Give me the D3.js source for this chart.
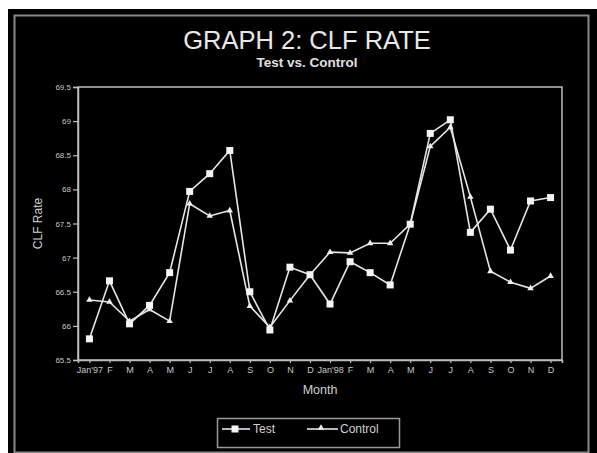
<!DOCTYPE html>
<html><head><meta charset="utf-8">
<script src="https://cdn.jsdelivr.net/npm/d3@7"></script>
<style>
html,body{margin:0;padding:0;background:#fff;}
svg{display:block;font-family:"Liberation Sans",Arial,sans-serif;}
</style></head>
<body>
<svg id="chart" width="597" height="453"></svg>
<script>
const monthLabels = ["Jan'97","F","M","A","M","J","J","A","S","O","N","D","Jan'98","F","M","A","M","J","J","A","S","O","N","D"];
const testValues = [65.81,66.66,66.03,66.30,66.78,67.97,68.23,68.57,66.50,65.94,66.86,66.75,66.32,66.94,66.78,66.60,67.49,68.82,69.02,67.37,67.71,67.11,67.83,67.88];
const controlValues = [66.38,66.35,66.07,66.24,66.07,67.79,67.61,67.69,66.29,65.98,66.37,66.75,67.08,67.07,67.21,67.21,67.49,68.63,68.91,67.89,66.80,66.64,66.55,66.73];
const yTicks = [65.5,66,66.5,67,67.5,68,68.5,69,69.5];
const seriesNames = ["Test","Control"];

const svg = d3.select("#chart");
// background
svg.append("rect").attr("x",8).attr("y",9).attr("width",589).attr("height",444).attr("fill","#000");
svg.append("rect").attr("x",14.5).attr("y",15.5).attr("width",574).attr("height",437)
  .attr("fill","none").attr("stroke","#8a8a8a").attr("stroke-width",2);

const L=78, R=562, T=87, B=360;
const x = d3.scalePoint().domain(d3.range(monthLabels.length)).range([L,R]).padding(0.57);
const y = d3.scaleLinear().domain([65.5,69.5]).range([B,T]);

// frame
svg.append("rect").attr("x",L).attr("y",T).attr("width",R-L).attr("height",B-T)
  .attr("fill","none").attr("stroke","#bdbdbd").attr("stroke-width",1.5);

const yAxis = svg.append("g").attr("transform",`translate(${L},0)`)
  .call(d3.axisLeft(y).tickValues(yTicks).tickFormat(d3.format("~g")).tickSize(5).tickPadding(2));
const xAxis = svg.append("g").attr("transform",`translate(0,${B})`)
  .call(d3.axisBottom(x).tickFormat(i=>monthLabels[i]).tickSize(3).tickPadding(4));
[yAxis,xAxis].forEach(g=>{
  g.select(".domain").attr("stroke","#bdbdbd").attr("stroke-width",1.5);
  g.selectAll(".tick line").attr("stroke","#bdbdbd").attr("stroke-width",1.2);
  g.selectAll(".tick text").attr("fill","#c8c8c8").attr("font-family","Liberation Sans, Arial, sans-serif");
});
yAxis.selectAll(".tick text").attr("font-size",8);
xAxis.selectAll(".tick text").attr("font-size",9);

// titles
svg.append("text").attr("x",307).attr("y",49).attr("text-anchor","middle")
  .attr("fill","#e8e8e8").attr("font-size",25.5).text("GRAPH 2: CLF RATE");
svg.append("text").attr("x",307).attr("y",67).attr("text-anchor","middle")
  .attr("fill","#e0e0e0").attr("font-size",13.5).attr("font-weight","bold").text("Test vs. Control");
svg.append("text").attr("transform",`translate(42,${(T+B)/2}) rotate(-90)`).attr("text-anchor","middle")
  .attr("fill","#d0d0d0").attr("font-size",12).text("CLF Rate");
svg.append("text").attr("x",(L+R)/2).attr("y",394).attr("text-anchor","middle")
  .attr("fill","#d0d0d0").attr("font-size",12.5).text("Month");

const line = d3.line().x((d,i)=>x(i)).y(d=>y(d));
const stroke = "#e6e6e6";
svg.append("path").datum(controlValues).attr("d",line).attr("fill","none").attr("stroke",stroke).attr("stroke-width",1.6);
svg.append("path").datum(testValues).attr("d",line).attr("fill","none").attr("stroke",stroke).attr("stroke-width",1.6);

const tri = d3.symbol().type(d3.symbolTriangle).size(18);
svg.append("g").selectAll("path").data(controlValues).join("path")
  .attr("transform",(d,i)=>`translate(${x(i)},${y(d)})`).attr("d",tri).attr("fill","#f0f0f0");
svg.append("g").selectAll("rect").data(testValues).join("rect")
  .attr("x",(d,i)=>x(i)-3.5).attr("y",d=>y(d)-3.5).attr("width",7).attr("height",7).attr("fill","#f4f4f4");

// legend
const lg = svg.append("g");
lg.append("rect").attr("x",217.5).attr("y",418.5).attr("width",182).attr("height",29)
  .attr("fill","none").attr("stroke","#9a9a9a").attr("stroke-width",1.5);
lg.append("line").attr("x1",222).attr("x2",250).attr("y1",429).attr("y2",429).attr("stroke",stroke).attr("stroke-width",1.6);
lg.append("rect").attr("x",231.5).attr("y",425.5).attr("width",7).attr("height",7).attr("fill","#f4f4f4");
lg.append("text").attr("x",253).attr("y",433).attr("fill","#d0d0d0").attr("font-size",12).text(seriesNames[0]);
lg.append("line").attr("x1",307).attr("x2",338).attr("y1",429).attr("y2",429).attr("stroke",stroke).attr("stroke-width",1.6);
lg.append("path").attr("transform","translate(321,428)").attr("d",tri).attr("fill","#f0f0f0");
lg.append("text").attr("x",340).attr("y",433).attr("fill","#d0d0d0").attr("font-size",12).text(seriesNames[1]);
</script>
</body></html>
